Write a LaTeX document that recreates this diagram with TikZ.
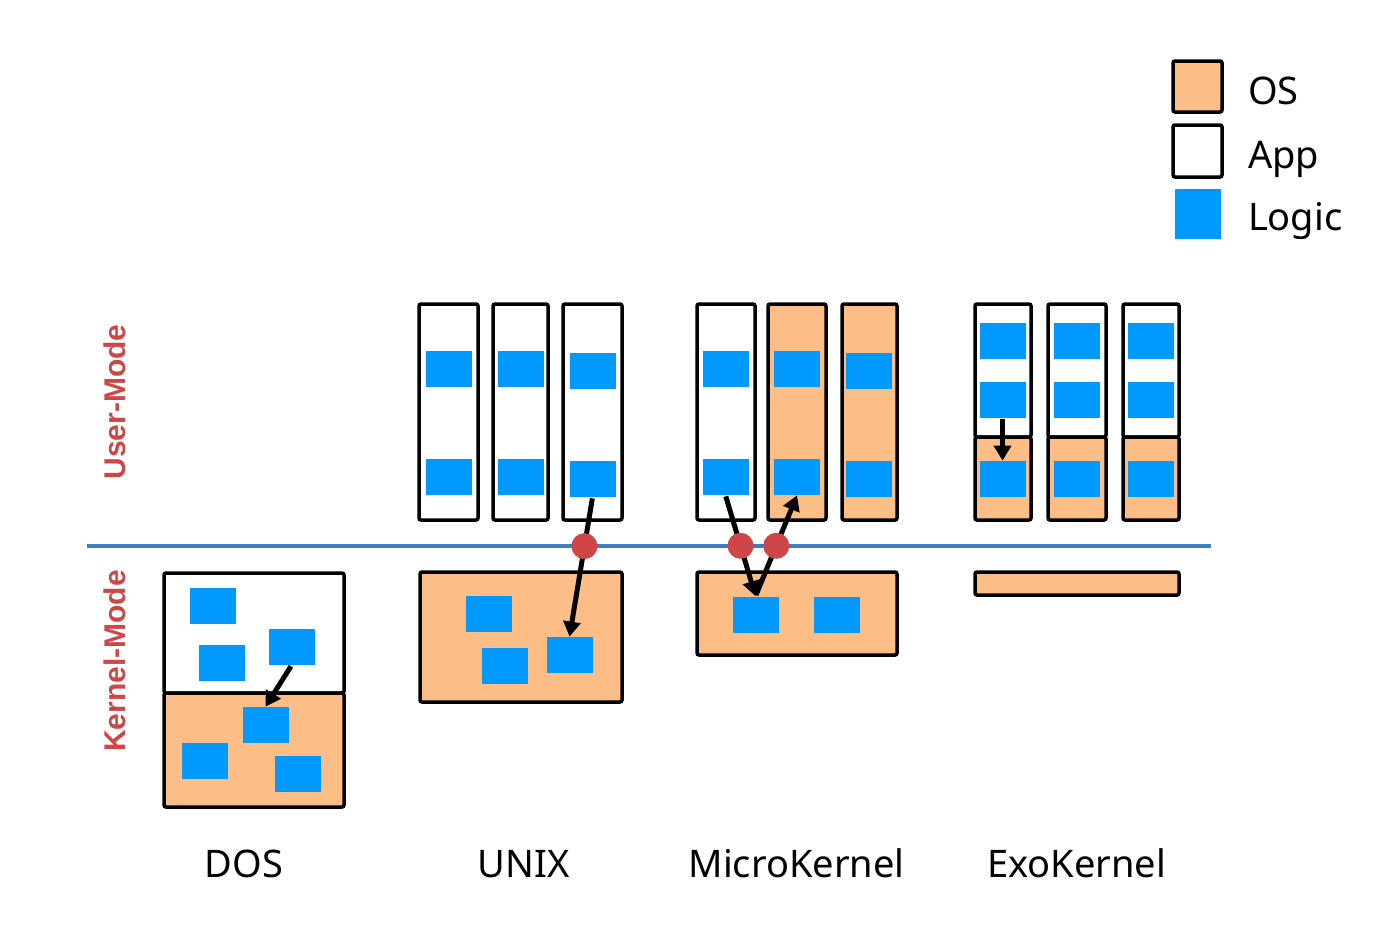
\documentclass[tikz,border=0pt]{standalone}
\usepackage{fontspec}
\setmainfont{Noto Sans}
\newfontfamily\modefont{Liberation Sans}
\usetikzlibrary{arrows.meta}

\definecolor{osfill}{RGB}{253,189,135}
\definecolor{logicblue}{RGB}{0,153,255}
\definecolor{splitblue}{RGB}{62,126,193}
\definecolor{dotred}{RGB}{207,70,71}

\tikzset{
    os/.style={draw=black, fill=osfill, line width=1.75pt, rounded corners=1pt},
    app/.style={draw=black, fill=white, line width=1.75pt, rounded corners=1pt},
    logic/.style={fill=logicblue, inner sep=0pt, minimum width=23pt, minimum height=18pt},
    flow/.style={draw=black, line width=2.5pt, -{Triangle[length=7.5pt, width=8.5pt]}, shorten <=0.5pt},
    dot/.style={circle, fill=dotred, inner sep=0pt, minimum size=13pt},
    modelabel/.style={rotate=90, text=dotred, font=\modefont\bfseries\fontsize{15}{18}\selectfont},
    caption/.style={font=\fontsize{19}{22}\selectfont, anchor=base}
}

\begin{document}
\begin{tikzpicture}[x=0.5pt, y=-0.5pt]
\useasboundingbox (0,0) rectangle (1380,928);

% user / kernel split
\draw[splitblue, line width=1.75pt] (87,546) -- (1211,546);
\node[modelabel] (user) at (115,402) {User-Mode};
\node[modelabel] (kernel) at (115,661) {Kernel-Mode};

% DOS
\draw[app] (164,573) rectangle (344,693);
\draw[os] (164,693) rectangle (344,807);
\node[logic] (d1) at (212.5,606) {};
\node[logic] (d2) at (221.5,663) {};
\node[logic] (d3) at (291.5,647) {};
\node[logic] (d4) at (265.5,725) {};
\node[logic] (d5) at (204.5,760.5) {};
\node[logic] (d6) at (297.5,774) {};
\draw[flow] (d3.south) -- (d4.north);
\node[caption] (dos) at (244,877) {DOS};

% UNIX
\draw[app] (419,304) rectangle (478,520);
\draw[app] (493,304) rectangle (548,520);
\draw[app] (563,304) rectangle (622,520);
\draw[os] (420,572) rectangle (622,702);
\node[logic] (u1a) at (448.5,369) {};
\node[logic] (u1b) at (448.5,477) {};
\node[logic] (u2a) at (520.5,369) {};
\node[logic] (u2b) at (520.5,477) {};
\node[logic] (u3a) at (592.5,371) {};
\node[logic] (u3b) at (592.5,479) {};
\node[logic] (uk1) at (489,614) {};
\node[logic] (uk2) at (504.5,666) {};
\node[logic] (uk3) at (569.5,655) {};
\draw[flow] (u3b.south) -- node[dot, pos=0.35] (ux) {} (uk3.north);
\node[caption] (unix) at (523.5,877) {UNIX};

% MicroKernel
\draw[app] (697,304) rectangle (755,520);
\draw[os] (768,304) rectangle (826,520);
\draw[os] (842,304) rectangle (897,520);
\draw[os] (697,572) rectangle (897,655);
\node[logic] (m1a) at (725.5,369) {};
\node[logic] (m1b) at (725.5,477) {};
\node[logic] (m2a) at (797,369) {};
\node[logic] (m2b) at (797,477) {};
\node[logic] (m3a) at (869,371) {};
\node[logic] (m3b) at (869,479) {};
\node[logic] (mk1) at (755.5,614.5) {};
\node[logic] (mk2) at (836.5,614.5) {};
\draw[flow] (m1b.south) -- node[dot, pos=0.5] (mx1) {} (mk1.north);
\draw[flow] (mk1.north) -- node[dot, pos=0.5] (mx2) {} (m2b.south);
\node[caption] (micro) at (796.5,877) {MicroKernel};

% ExoKernel
\draw[app] (975,304) rectangle (1031,437);
\draw[os] (975,437) rectangle (1031,520);
\draw[app] (1048,304) rectangle (1106,437);
\draw[os] (1048,437) rectangle (1106,520);
\draw[app] (1123,304) rectangle (1179,437);
\draw[os] (1123,437) rectangle (1179,520);
\draw[os] (975,572) rectangle (1179,595);
\node[logic] (e1a) at (1002.5,340.5) {};
\node[logic] (e1b) at (1002.5,399.5) {};
\node[logic] (e1c) at (1002.5,479) {};
\node[logic] (e2a) at (1076.5,340.5) {};
\node[logic] (e2b) at (1076.5,399.5) {};
\node[logic] (e2c) at (1076.5,479) {};
\node[logic] (e3a) at (1150.5,340.5) {};
\node[logic] (e3b) at (1150.5,399.5) {};
\node[logic] (e3c) at (1150.5,479) {};
\draw[flow] (e1b.south) -- (e1c.north);
\node[caption] (exo) at (1076.5,877) {ExoKernel};

% legend
\draw[os] (1173,61) rectangle (1222,112);
\draw[app] (1173,125) rectangle (1222,177);
\node[logic, minimum height=25pt] (keylogic) at (1197.5,214) {};
\node[caption, anchor=base west] (keyos) at (1241,104) {OS};
\node[caption, anchor=base west] (keyapp) at (1241,168) {App};
\node[caption, anchor=base west] (keylg) at (1241,230) {Logic};
\end{tikzpicture}
\end{document}
